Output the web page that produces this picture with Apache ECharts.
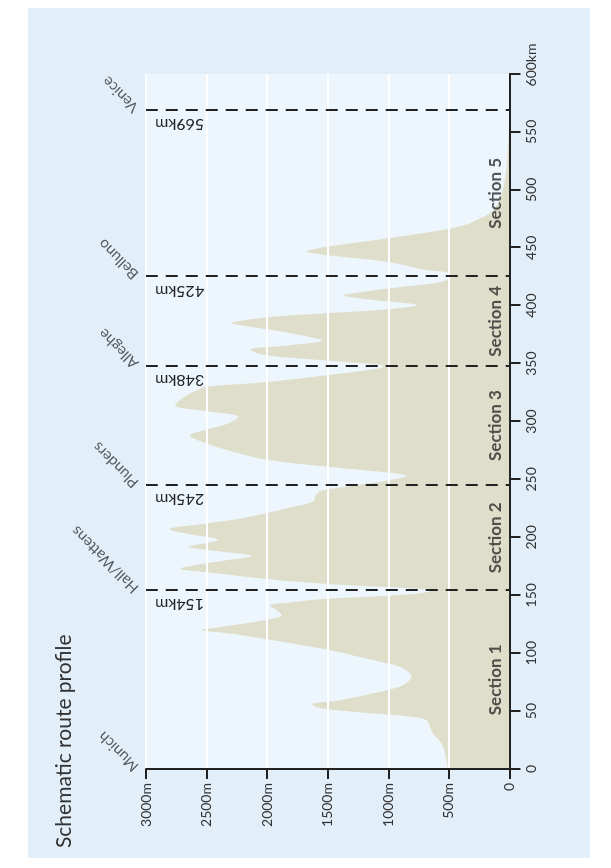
<!DOCTYPE html>
<html><head><meta charset="utf-8">
<script src="https://cdn.jsdelivr.net/npm/echarts@6/dist/echarts.min.js"></script>
<style>
html,body{margin:0;padding:0;background:#fff;width:611px;height:868px;overflow:hidden;}
#rot{position:absolute;left:0;top:0;width:868px;height:611px;transform-origin:0 0;transform:translate(0,868px) rotate(-90deg);background:#fff;}
#chart{position:absolute;left:10px;top:28px;width:850px;height:562px;background:#e2eff9;}
</style></head><body>
<div id="rot"><div id="chart"></div></div>
<script>
const distanceKm = [0, 5, 10, 19, 24, 28, 32, 36, 42, 45, 47, 50, 53, 56, 59, 65, 71, 76, 80, 84, 88, 91, 97, 103, 112, 117, 120, 123, 127, 130, 133, 137, 141, 144, 147, 149.5, 152, 154, 156, 158, 160, 164, 170, 173, 176, 180, 184, 188, 192, 195, 198, 202, 207, 212, 216, 221, 226, 231, 236, 240, 245, 249, 253, 256, 261, 267, 273, 281, 288, 293, 298, 304, 309, 314, 320, 326, 330, 334, 340, 346, 348, 351, 355, 358, 362, 366, 370, 374, 378, 382, 385, 388, 390.5, 393.5, 397, 400.5, 405, 409, 412, 415, 419, 422, 425, 428, 431, 438, 443, 447, 449, 451, 458, 466, 470, 475, 480, 486, 492, 500, 510, 525, 545, 570];
const elevationM = [505, 515, 525, 546, 575, 610, 640, 656, 683, 800, 1000, 1350, 1580, 1632, 1420, 1140, 910, 830, 808, 840, 900, 1000, 1250, 1500, 2000, 2300, 2540, 2360, 2100, 1950, 1880, 1920, 1976, 1800, 1508, 1013, 720, 650, 800, 1200, 1540, 2000, 2500, 2718, 2600, 2350, 2127, 2400, 2650, 2500, 2402, 2600, 2806, 2498, 2230, 2003, 1800, 1619, 1600, 1560, 1260, 1013, 848, 1013, 1508, 2003, 2250, 2498, 2636, 2500, 2330, 2237, 2500, 2760, 2700, 2600, 2498, 2003, 1508, 1068, 1040, 1300, 1800, 2050, 2141, 1800, 1549, 1700, 1900, 2150, 2292, 2150, 1950, 1508, 1000, 766, 1124, 1371, 1200, 986, 650, 518, 505, 500, 700, 1013, 1450, 1673, 1600, 1508, 1013, 518, 360, 250, 160, 110, 80, 55, 36, 20, 8, 0];

const splitKm = [154, 245, 348, 425, 569];
const splitLabels = ['154km', '245km', '348km', '425km', '569km'];
const cityNames = ['Munich', 'Hall/Wattens', 'Plunders', 'Alleghe', 'Belluno', 'Venice'];
const cityKm = [0, 154, 245, 348, 425, 569];
const sectionNames = ['Section 1', 'Section 2', 'Section 3', 'Section 4', 'Section 5'];
const sectionMidKm = [77, 199.5, 296.5, 386.5, 497];
const distTickLabels = ['0', '50', '100', '150', '200', '250', '300', '350', '400', '450', '500', '550', '600'];
const distUnit = 'km';
const elevTickLabels = ['0', '500m', '1000m', '1500m', '2000m', '2500m', '3000m'];

const FONT = "Lato, 'Open Sans', sans-serif";
const TXT = '#2a2a2a';

const chart = echarts.init(document.getElementById('chart'), null, {renderer: 'canvas'});
chart.setOption({
  animation: false,
  backgroundColor: '#e2eff9',
  textStyle: {fontFamily: FONT, color: TXT},
  title: {
    text: 'Schematic route profile', left: 5, top: 21, padding: 5,
    textStyle: {fontFamily: FONT, fontSize: 21, fontWeight: 'normal', color: '#333'}
  },
  grid: {left: 89, right: 66, top: 118, bottom: 80.5, show: true, backgroundColor: '#eef6fd', borderWidth: 0},
  xAxis: {
    type: 'value', min: 0, max: 600, interval: 50, z: 6,
    axisLine: {show: true, onZero: false, lineStyle: {color: '#222', width: 2}},
    axisTick: {show: true, length: 11, lineStyle: {color: '#222', width: 2}},
    axisLabel: {margin: 15, fontSize: 14, color: '#333', fontFamily: FONT,
      formatter: v => {
        const i = Math.round(v / 50);
        return i === distTickLabels.length - 1
          ? '{p|}' + distTickLabels[i] + '{u|' + distUnit + '}'
          : distTickLabels[i];
      },
      rich: {
        p: {width: 18, fontSize: 14, fontFamily: FONT},
        u: {fontSize: 14, color: '#333', fontFamily: FONT}
      }
    },
    splitLine: {show: false}
  },
  yAxis: {
    type: 'value', min: 0, max: 3000, interval: 500, z: 3,
    axisLine: {show: true, onZero: false, lineStyle: {color: '#222', width: 2}},
    axisTick: {show: true, length: 10, lineStyle: {color: '#222', width: 2}},
    axisLabel: {margin: 14, fontSize: 14, color: '#333', fontFamily: FONT,
      formatter: v => elevTickLabels[Math.round(v / 500)]},
    splitLine: {show: true, lineStyle: {color: '#ffffff', width: 2}}
  },
  series: [
    {
      type: 'line', z: 2, smooth: 0.35, showSymbol: false, silent: true,
      data: distanceKm.map((d, i) => [d, elevationM[i]]),
      lineStyle: {width: 0}, itemStyle: {color: '#dedeca'},
      areaStyle: {color: '#dedeca', opacity: 1}
    },
    {
      type: 'line', z: 8, data: [], silent: true,
      markLine: {
        silent: true, animation: false, symbol: ['none', 'none'],
        lineStyle: {color: '#222', width: 2, type: [12, 8], dashOffset: 8.2},
        label: {show: true, position: 'insideEndTop', formatter: '{b}', distance: [9, 6],
          fontSize: 16, color: '#222', fontFamily: FONT},
        data: splitKm.map((k, i) => [{coord: [k, 0], name: splitLabels[i]}, {coord: [k, 3000]}])
      }
    },
    {
      type: 'scatter', z: 9, symbolSize: 0, clip: false, silent: true,
      data: cityKm.map((k, i) => ({value: [k, 3000], name: cityNames[i]})),
      label: {show: true, formatter: '{b}', position: 'top', distance: 10, rotate: 45,
        align: 'left', verticalAlign: 'middle', fontSize: 15, color: '#333', fontFamily: FONT}
    },
    {
      type: 'scatter', z: 9, symbolSize: 0, clip: false, silent: true,
      data: sectionMidKm.map((k, i) => ({value: [k, 0], name: sectionNames[i]})),
      label: {show: true, formatter: '{b}', position: 'top', distance: 5,
        fontSize: 17, fontWeight: 'bold', color: '#2a2a2a', fontFamily: FONT}
    }
  ]
});
</script>
</body></html>
